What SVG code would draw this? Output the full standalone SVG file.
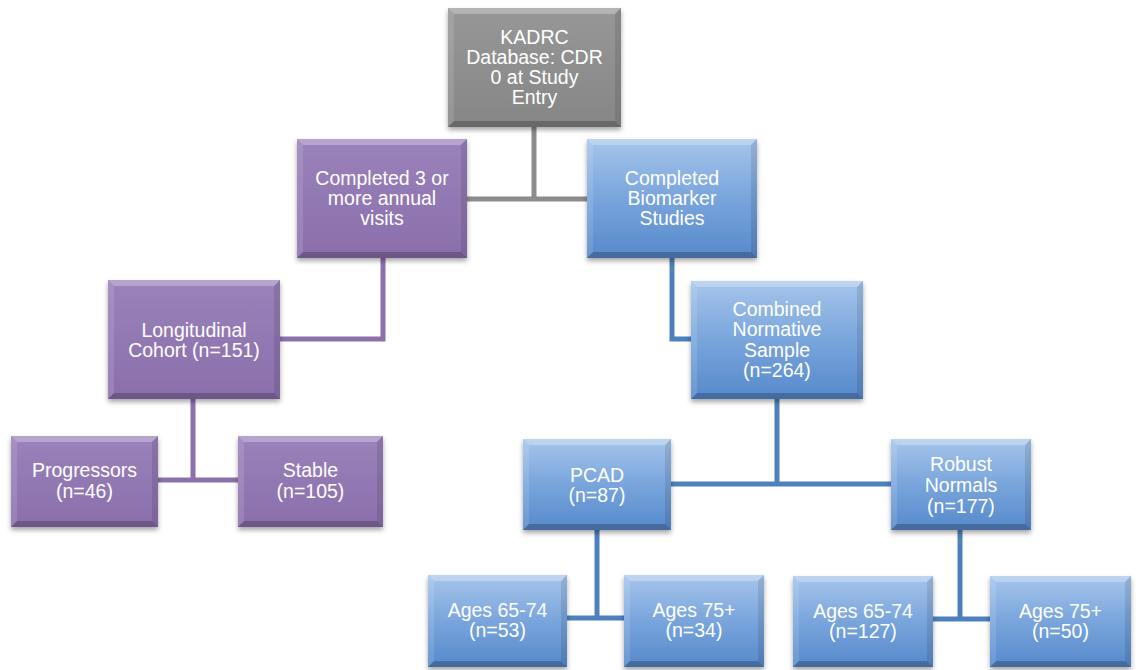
<svg xmlns="http://www.w3.org/2000/svg" width="1136" height="670" viewBox="0 0 1136 670">
<defs>
<linearGradient id="gGray" x1="0" y1="0" x2="0" y2="1"><stop offset="0" stop-color="#979797"/><stop offset="1" stop-color="#868686"/></linearGradient>
<linearGradient id="gPurple" x1="0" y1="0" x2="0" y2="1"><stop offset="0" stop-color="#9a82ba"/><stop offset="1" stop-color="#8b6fac"/></linearGradient>
<linearGradient id="gBlue" x1="0" y1="0" x2="0" y2="1"><stop offset="0" stop-color="#a6c5eb"/><stop offset="0.5" stop-color="#79a5dc"/><stop offset="1" stop-color="#5689cb"/></linearGradient>
<filter id="sh" x="-10%" y="-10%" width="120%" height="130%"><feDropShadow dx="0" dy="3" stdDeviation="2.5" flood-color="#000" flood-opacity="0.35"/></filter>
<style>
.gray{fill:url(#gGray)}
.purple{fill:url(#gPurple)}
.blue{fill:url(#gBlue)}
.box{filter:url(#sh)}
.bt{fill:#fff;opacity:0.28}
.bl{fill:#fff;opacity:0.12}
.br{fill:#000;opacity:0.10}
.bb{fill:#000;opacity:0.22}
text{font-family:"Liberation Sans",Arial,sans-serif;font-size:19.5px;fill:#fff;text-anchor:middle}
.c{fill:none;stroke-width:5;stroke-linecap:butt;stroke-linejoin:miter}
.cg{stroke:#8c8c8c}
.cp{stroke:#8c70ae}
.cb{stroke:#4d80bd}
</style>
</defs>
<rect width="1136" height="670" fill="#fff"/>
<g id="connectors">
<path class="c cg" d="M534 127 V199 M467 199 H587"/>
<path class="c cp" d="M383 258 V339 H280 M193 399 V480 M158 480 H238"/>
<path class="c cb" d="M672 258 V339 H691 M777 399 V484 M671 484 H891 M597 530 V618 M567 618 H624 M960 530 V619 M933 619 H990"/>
</g>
<g id="n-kadrc">
<rect class="box gray" x="448" y="8" width="173" height="119"/>
<polygon class="bt" points="448,8 621,8 615,14 454,14"/>
<polygon class="bl" points="448,8 454,14 454,121 448,127"/>
<polygon class="br" points="621,8 621,127 615,121 615,14"/>
<polygon class="bb" points="448,127 621,127 615,121 454,121"/>
<text x="534.5" y="44">KADRC</text>
<text x="534.5" y="64">Database: CDR</text>
<text x="534.5" y="84">0 at Study</text>
<text x="534.5" y="104">Entry</text>
</g>
<g id="n-visits">
<rect class="box purple" x="297" y="139" width="170" height="119"/>
<polygon class="bt" points="297,139 467,139 461,145 303,145"/>
<polygon class="bl" points="297,139 303,145 303,252 297,258"/>
<polygon class="br" points="467,139 467,258 461,252 461,145"/>
<polygon class="bb" points="297,258 467,258 461,252 303,252"/>
<text x="382" y="185">Completed 3 or</text>
<text x="382" y="205">more annual</text>
<text x="382" y="225">visits</text>
</g>
<g id="n-bio">
<rect class="box blue" x="587" y="139" width="170" height="119"/>
<polygon class="bt" points="587,139 757,139 751,145 593,145"/>
<polygon class="bl" points="587,139 593,145 593,252 587,258"/>
<polygon class="br" points="757,139 757,258 751,252 751,145"/>
<polygon class="bb" points="587,258 757,258 751,252 593,252"/>
<text x="672" y="185">Completed</text>
<text x="672" y="205">Biomarker</text>
<text x="672" y="225">Studies</text>
</g>
<g id="n-long">
<rect class="box purple" x="108" y="280" width="172" height="119"/>
<polygon class="bt" points="108,280 280,280 274,286 114,286"/>
<polygon class="bl" points="108,280 114,286 114,393 108,399"/>
<polygon class="br" points="280,280 280,399 274,393 274,286"/>
<polygon class="bb" points="108,399 280,399 274,393 114,393"/>
<text x="194" y="337">Longitudinal</text>
<text x="194" y="357">Cohort (n=151)</text>
</g>
<g id="n-comb">
<rect class="box blue" x="691" y="281" width="172" height="118"/>
<polygon class="bt" points="691,281 863,281 857,287 697,287"/>
<polygon class="bl" points="691,281 697,287 697,393 691,399"/>
<polygon class="br" points="863,281 863,399 857,393 857,287"/>
<polygon class="bb" points="691,399 863,399 857,393 697,393"/>
<text x="777" y="316">Combined</text>
<text x="777" y="336">Normative</text>
<text x="777" y="357">Sample</text>
<text x="777" y="377">(n=264)</text>
</g>
<g id="n-prog">
<rect class="box purple" x="11" y="436" width="147" height="91"/>
<polygon class="bt" points="11,436 158,436 152,442 17,442"/>
<polygon class="bl" points="11,436 17,442 17,521 11,527"/>
<polygon class="br" points="158,436 158,527 152,521 152,442"/>
<polygon class="bb" points="11,527 158,527 152,521 17,521"/>
<text x="84.5" y="477">Progressors</text>
<text x="84.5" y="498">(n=46)</text>
</g>
<g id="n-stable">
<rect class="box purple" x="238" y="436" width="145" height="91"/>
<polygon class="bt" points="238,436 383,436 377,442 244,442"/>
<polygon class="bl" points="238,436 244,442 244,521 238,527"/>
<polygon class="br" points="383,436 383,527 377,521 377,442"/>
<polygon class="bb" points="238,527 383,527 377,521 244,521"/>
<text x="310.5" y="477">Stable</text>
<text x="310.5" y="498">(n=105)</text>
</g>
<g id="n-pcad">
<rect class="box blue" x="523" y="439" width="148" height="91"/>
<polygon class="bt" points="523,439 671,439 665,445 529,445"/>
<polygon class="bl" points="523,439 529,445 529,524 523,530"/>
<polygon class="br" points="671,439 671,530 665,524 665,445"/>
<polygon class="bb" points="523,530 671,530 665,524 529,524"/>
<text x="597" y="482">PCAD</text>
<text x="597" y="502">(n=87)</text>
</g>
<g id="n-robust">
<rect class="box blue" x="891" y="439" width="140" height="91"/>
<polygon class="bt" points="891,439 1031,439 1025,445 897,445"/>
<polygon class="bl" points="891,439 897,445 897,524 891,530"/>
<polygon class="br" points="1031,439 1031,530 1025,524 1025,445"/>
<polygon class="bb" points="891,530 1031,530 1025,524 897,524"/>
<text x="961" y="471">Robust</text>
<text x="961" y="492">Normals</text>
<text x="961" y="513">(n=177)</text>
</g>
<g id="n-p6574">
<rect class="box blue" x="428" y="575" width="139" height="92"/>
<polygon class="bt" points="428,575 567,575 561,581 434,581"/>
<polygon class="bl" points="428,575 434,581 434,661 428,667"/>
<polygon class="br" points="567,575 567,667 561,661 561,581"/>
<polygon class="bb" points="428,667 567,667 561,661 434,661"/>
<text x="497.5" y="617">Ages 65-74</text>
<text x="497.5" y="637">(n=53)</text>
</g>
<g id="n-p75">
<rect class="box blue" x="624" y="575" width="140" height="92"/>
<polygon class="bt" points="624,575 764,575 758,581 630,581"/>
<polygon class="bl" points="624,575 630,581 630,661 624,667"/>
<polygon class="br" points="764,575 764,667 758,661 758,581"/>
<polygon class="bb" points="624,667 764,667 758,661 630,661"/>
<text x="694" y="617">Ages 75+</text>
<text x="694" y="637">(n=34)</text>
</g>
<g id="n-r6574">
<rect class="box blue" x="793" y="576" width="140" height="91"/>
<polygon class="bt" points="793,576 933,576 927,582 799,582"/>
<polygon class="bl" points="793,576 799,582 799,661 793,667"/>
<polygon class="br" points="933,576 933,667 927,661 927,582"/>
<polygon class="bb" points="793,667 933,667 927,661 799,661"/>
<text x="863" y="618">Ages 65-74</text>
<text x="863" y="638">(n=127)</text>
</g>
<g id="n-r75">
<rect class="box blue" x="990" y="576" width="141" height="91"/>
<polygon class="bt" points="990,576 1131,576 1125,582 996,582"/>
<polygon class="bl" points="990,576 996,582 996,661 990,667"/>
<polygon class="br" points="1131,576 1131,667 1125,661 1125,582"/>
<polygon class="bb" points="990,667 1131,667 1125,661 996,661"/>
<text x="1060.5" y="618">Ages 75+</text>
<text x="1060.5" y="638">(n=50)</text>
</g>
</svg>
